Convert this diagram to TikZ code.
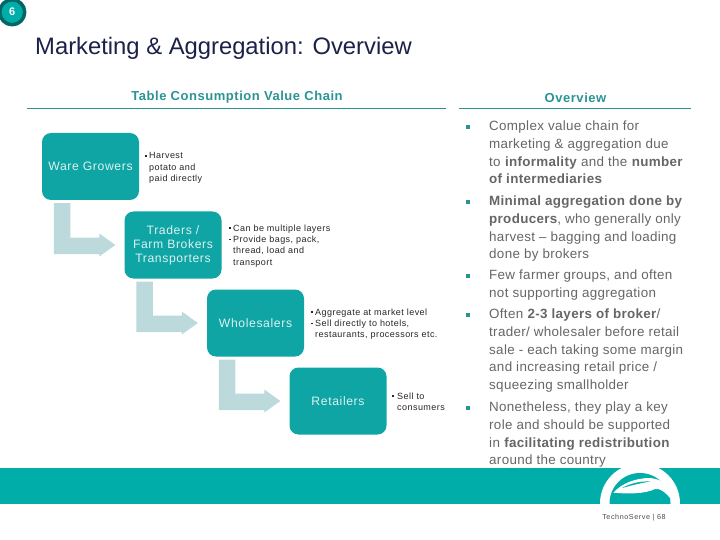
\documentclass[tikz,border=0pt]{standalone}
\usepackage{fontspec}
\setmainfont{Liberation Sans}
\usetikzlibrary{calc}
\definecolor{tealbox}{HTML}{10A5A5}
\definecolor{tealband}{HTML}{00ADA8}
\definecolor{tealhead}{HTML}{2A9494}
\definecolor{arrowpale}{HTML}{BCD9DB}
\definecolor{navy}{HTML}{1B2148}
\definecolor{graytext}{HTML}{666666}
\newfontfamily\spaceda[LetterSpace=5]{Liberation Sans}
\newfontfamily\spacedb[LetterSpace=2.4]{Liberation Sans}
\newfontfamily\spacedc[LetterSpace=4.2]{Liberation Sans}
\newfontfamily\spacedd[LetterSpace=8]{Liberation Sans}
\newcommand{\nb}{\makebox[4pt][l]{\raisebox{2.2pt}{\rule{1.6pt}{1.6pt}}}}
\newcommand{\nin}{\hspace*{4pt}}
\tikzset{
  stage/.style={fill=tealbox,rounded corners=9pt,minimum width=97pt,minimum height=67pt,inner sep=0pt,align=center,text=white!85!tealbox,font=\spaceda\fontsize{12.2}{14}\selectfont},
  note/.style={anchor=north west,inner sep=0pt,align=left,text=black!85,font=\spaceda\fontsize{9}{11.3}\selectfont},
  head/.style={inner sep=0pt,text=tealhead,font=\spacedc\fontsize{13}{15}\selectfont\bfseries},
  rule/.style={draw=tealhead,line width=0.8pt},
  over/.style={anchor=north west,inner sep=0pt,align=left,text=graytext,font=\spacedb\fontsize{13.4}{17.6}\selectfont},
  sq/.style={fill=tealhead,minimum size=3.2pt,inner sep=0pt},
}
\newcommand{\blockarrow}[2]{%
  \path let \p1=($(#1.south west)+(12,3)$), \p2=($(#2.west)+(-9,0)$) in
    [fill=arrowpale] (\x1,\y1) -- (\x1+16.5pt,\y1) -- (\x1+16.5pt,\y2+7.5pt) -- (\x2-16pt,\y2+7.5pt)
    -- (\x2-16pt,\y2+11.5pt) -- (\x2,\y2) -- (\x2-16pt,\y2-11.5pt) -- (\x2-16pt,\y2-9pt)
    -- (\x1,\y2-9pt) -- cycle;}
\begin{document}
\begin{tikzpicture}[x=1pt,y=-1pt]
\useasboundingbox (0,0) rectangle (720,540);
\fill[white] (0,0) rectangle (720,540);
% page badge
\node[circle,fill=tealband,draw=teal!80!black,line width=3.5pt,minimum size=25pt,inner sep=0pt,text=white,font=\fontsize{11}{13}\selectfont\bfseries] (badge) at (12.2,12.2) {6};
% title
\node[anchor=west,inner sep=0pt,text=navy,font=\fontsize{23.8}{28}\selectfont] (title) at (35,48) {Marketing \& Aggregation: Overview};
% headers
\node[head] (h1) at (237,97.5) {Table Consumption Value Chain};
\node[head] (h2) at (575.5,97.5) {Overview};
\coordinate (r1a) at (27,108); \coordinate (r1b) at (446,108);
\coordinate (r2a) at (459,108); \coordinate (r2b) at (691,108);
\draw[rule] (r1a) -- (r1b);
\draw[rule] (r2a) -- (r2b);
% stages
\node[stage] (ware) at (90.5,166.5) {Ware Growers};
\node[stage] (trad) at (173,245) {Traders /\\Farm Brokers\\Transporters};
\node[stage] (whol) at (255.5,323) {Wholesalers};
\node[stage] (reta) at (338,401) {Retailers};
\blockarrow{ware}{trad}
\blockarrow{trad}{whol}
\blockarrow{whol}{reta}
% notes
\node[note] (n1) at (145,152.5) {\nb Harvest\\\nin potato and\\\nin paid directly};
\node[note] (n2) at (229,224.5) {\nb Can be multiple layers\\\nb Provide bags, pack,\\\nin thread, load and\\\nin transport};
\node[note] (n3) at (311,308.5) {\nb Aggregate at market level\\\nb Sell directly to hotels,\\\nin restaurants, processors etc.};
\node[note] (n4) at (392,392.5) {\nb\hspace*{1pt}Sell to\\\nin\hspace*{1pt}consumers};
% overview bullets
\node[over] (o1) at (489,121) {Complex value chain for\\marketing \& aggregation due\\to \textbf{informality} and the \textbf{number}\\\textbf{of intermediaries}};
\node[over] (o2) at (489,196) {\textbf{Minimal aggregation done by}\\\textbf{producers}, who generally only\\harvest – bagging and loading\\done by brokers};
\node[over] (o3) at (489,270) {Few farmer groups, and often\\not supporting aggregation};
\node[over] (o4) at (489,309) {Often \textbf{2-3 layers of broker}/\\trader/ wholesaler before retail\\sale - each taking some margin\\and increasing retail price /\\squeezing smallholder};
\node[over] (o5) at (489,402) {Nonetheless, they play a key\\role and should be supported\\in \textbf{facilitating redistribution}\\around the country};
\node[sq] (b1) at (468,127) {};
\node[sq] (b2) at (468,202) {};
\node[sq] (b3) at (468,276) {};
\node[sq] (b4) at (468,315) {};
\node[sq] (b5) at (468,408) {};
% footer
\fill[tealband] (0,468) rectangle (720,503.5);
\begin{scope}
\clip (590,455) rectangle (690,503.5);
\fill[white] (640,503.5) circle (40);
\fill[tealband] (640,503.5) circle (30.5);
\fill[white] (613.3,492.7) .. controls (622,483) and (636,478) .. (650,478)
  .. controls (660,479) and (668,484) .. (673,490) -- (670,498)
  .. controls (665,492) and (660,488) .. (655,489)
  .. controls (645,494) and (628,494) .. (613.3,492.7) -- cycle;
\fill[tealband] (622,488) .. controls (631,483) and (641,481) .. (650,481.5)
  .. controls (641,483) and (631,485.5) .. (622,488) -- cycle;
\end{scope}
\node[inner sep=0pt,text=black!70,font=\spacedd\fontsize{7.2}{9}\selectfont] (foot) at (634,518) {TechnoServe | 68};
\end{tikzpicture}
\end{document}
